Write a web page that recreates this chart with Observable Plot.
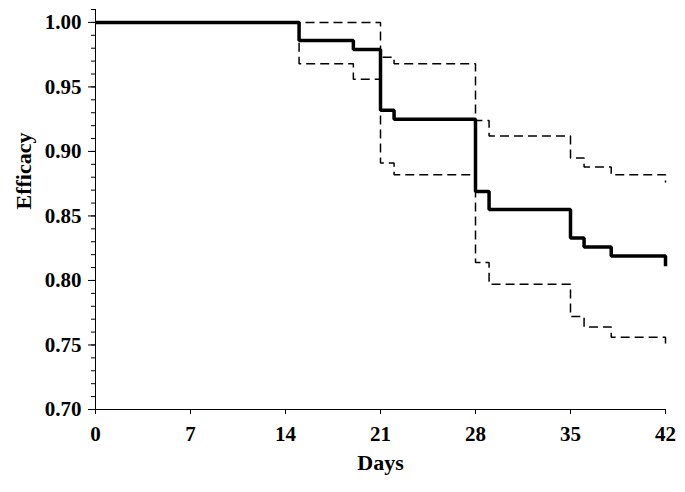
<!DOCTYPE html>
<html><head><meta charset="utf-8">
<script src="https://cdn.jsdelivr.net/npm/d3@7"></script>
<script src="https://cdn.jsdelivr.net/npm/@observablehq/plot@0.6"></script>
<style>body{margin:0;background:#fff}</style>
</head><body><div id="chart"></div>
<script>
const mainDays  = [0, 15, 19, 21, 22, 28, 29, 35, 36, 38, 42, 42];
const mainEff   = [1.000, 0.986, 0.979, 0.932, 0.925, 0.869, 0.855, 0.833, 0.826, 0.819, 0.819, 0.811];
const upperDays = [0, 21, 22, 28, 29, 35, 36, 38, 42, 42];
const upperEff  = [1.000, 0.973, 0.968, 0.924, 0.912, 0.895, 0.888, 0.882, 0.882, 0.876];
const lowerDays = [0, 15, 19, 21, 22, 28, 29, 35, 36, 38, 42, 42];
const lowerEff  = [1.000, 0.968, 0.956, 0.891, 0.882, 0.814, 0.797, 0.772, 0.764, 0.756, 0.756, 0.748];
const xTicks = [0, 7, 14, 21, 28, 35, 42];
const yTicks = [0.70, 0.75, 0.80, 0.85, 0.90, 0.95, 1.00];
const yMinorTicks = [0.70,0.71,0.72,0.73,0.74,0.75,0.76,0.77,0.78,0.79,0.80,0.81,0.82,0.83,0.84,0.85,0.86,0.87,0.88,0.89,0.90,0.91,0.92,0.93,0.94,0.95,0.96,0.97,0.98,0.99,1.00,1.01];
const xLabel = "Days";
const yLabel = "Efficacy";

const toRows = (xs, ys) => xs.map((d, i) => ({day: d, eff: ys[i]}));
const mainRows = toRows(mainDays, mainEff);
const upperRows = toRows(upperDays, upperEff);
const lowerRows = toRows(lowerDays, lowerEff);

const chart = Plot.plot({
  width: 685, height: 492,
  marginLeft: 95, marginRight: 20, marginTop: 9, marginBottom: 83,
  x: {domain: [0, 42]},
  y: {domain: [0.70, 1.01]},
  style: {fontFamily: "'Liberation Serif', 'Times New Roman', serif", fontWeight: "bold", fontSize: "21px", color: "#000", background: "#fff"},
  marks: [
    Plot.ruleX([0], {stroke: "#000", strokeWidth: 1}),
    Plot.ruleY([0.70], {stroke: "#000", strokeWidth: 1}),
    Plot.axisY({ticks: yMinorTicks, tickSize: 4, tickFormat: () => "", label: null, stroke: "#000"}),
    Plot.axisY({ticks: yTicks, tickSize: 7, tickPadding: 7, tickFormat: d3.format(".2f"), label: null, fontSize: 21, fontWeight: "bold", stroke: "#000"}),
    Plot.axisX({ticks: xTicks, tickSize: 5, tickPadding: 12, label: null, fontSize: 21, fontWeight: "bold", stroke: "#000"}),
    Plot.line(upperRows, {x: "day", y: "eff", curve: "step-after", stroke: "#000", strokeWidth: 1.5, strokeDasharray: "9,5", strokeLinejoin: "miter", strokeLinecap: "butt"}),
    Plot.line(lowerRows, {x: "day", y: "eff", curve: "step-after", stroke: "#000", strokeWidth: 1.5, strokeDasharray: "9,5", strokeLinejoin: "miter", strokeLinecap: "butt"}),
    Plot.line(mainRows, {x: "day", y: "eff", curve: "step-after", stroke: "#000", strokeWidth: 3.5, strokeLinejoin: "miter", strokeLinecap: "butt"}),
    Plot.text([xLabel], {frameAnchor: "bottom", dy: 60, fontSize: 22, fontWeight: "bold"}),
    Plot.text([yLabel], {frameAnchor: "left", dx: -72, rotate: -90, fontSize: 22, fontWeight: "bold"})
  ]
});
document.getElementById("chart").appendChild(chart);
</script>
</body></html>
